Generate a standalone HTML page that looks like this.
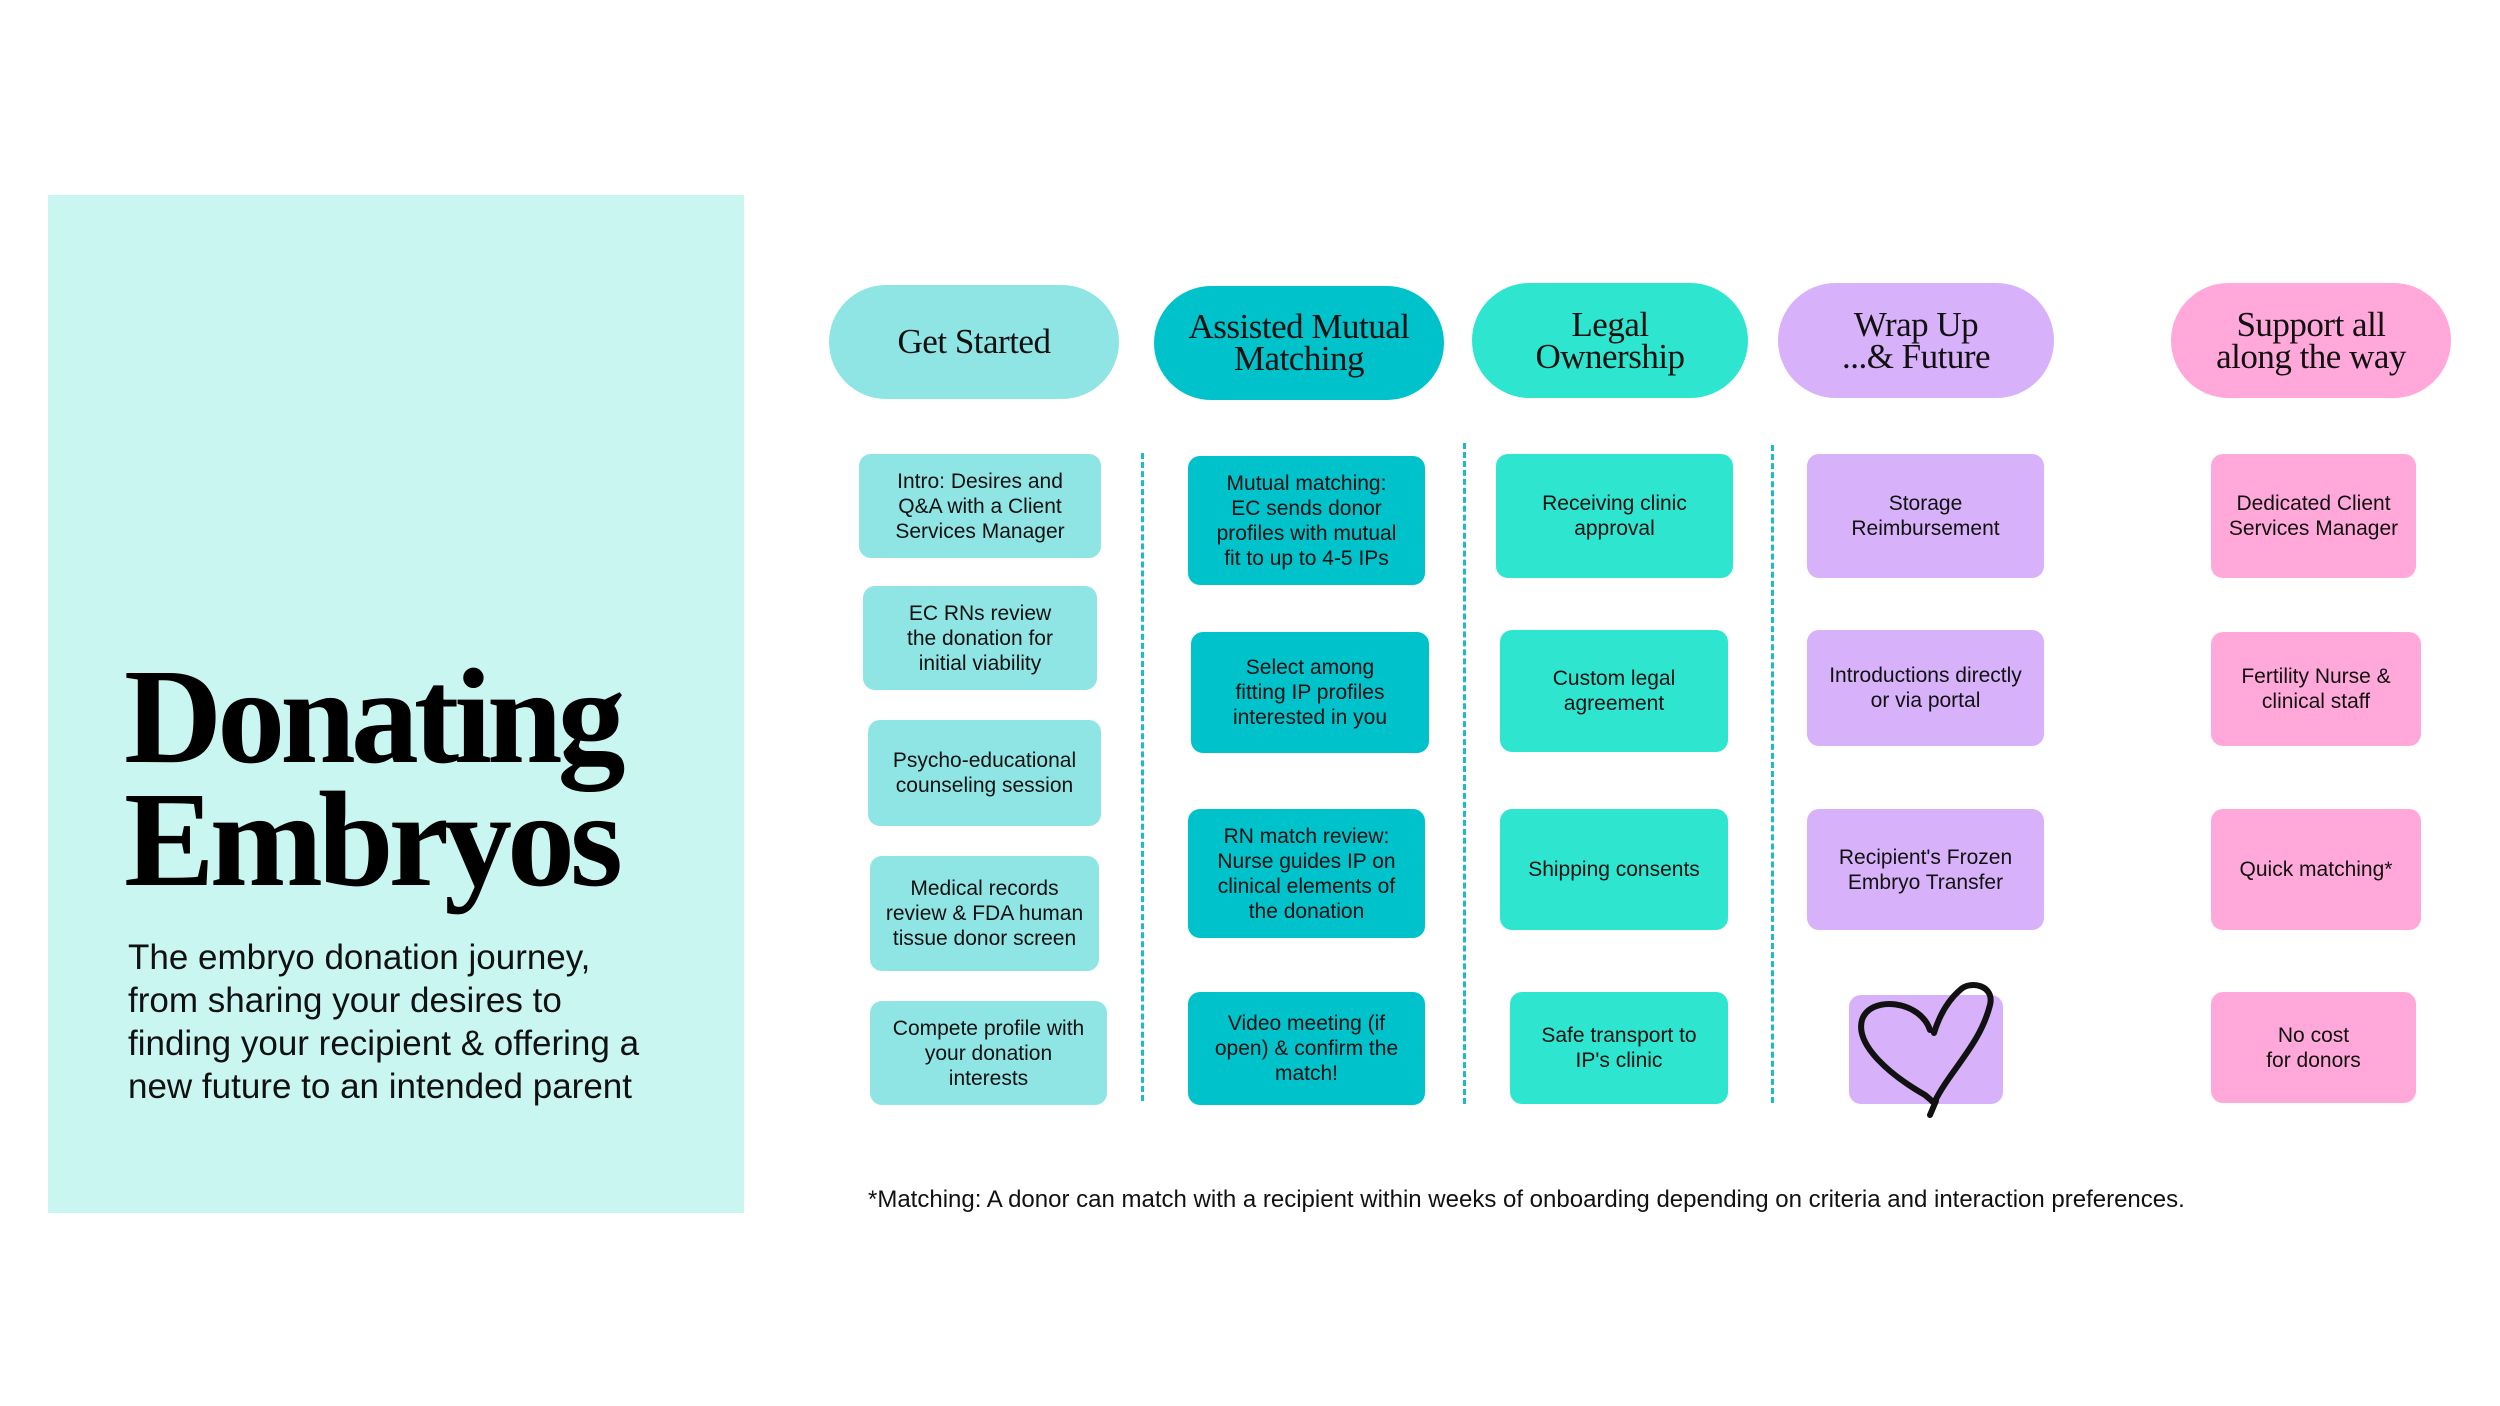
<!DOCTYPE html>
<html><head><meta charset="utf-8"><style>
*{margin:0;padding:0;box-sizing:border-box}
body{width:2500px;height:1406px;background:#fff;position:relative;overflow:hidden;font-family:"Liberation Sans",sans-serif;color:#111}
.a{position:absolute;display:flex;align-items:center;justify-content:center;text-align:center}
.h{border-radius:60px;font-family:"Liberation Serif",serif;font-size:35px;line-height:32px;letter-spacing:-0.5px;color:#111}
.b{border-radius:12px;font-size:21px;line-height:25px;padding:0 4px;white-space:nowrap}
.c1{background:#8fe4e4}.c2{background:#00c2cb}.c3{background:#2ee6cf}.c4{background:#d7b1f9}.c5{background:#ffa8d9}
.d{position:absolute;width:0;border-left:3px dashed #1fb8cc}
</style></head><body>
<div style="position:absolute;left:48px;top:195px;width:696px;height:1018px;background:#c9f6f1"></div>
<div style="position:absolute;left:124px;top:656px;font-family:'Liberation Serif',serif;font-weight:bold;font-size:136px;line-height:123px;letter-spacing:-5px;color:#000">Donating<br>Embryos</div>
<div style="position:absolute;left:128px;top:936px;font-size:35px;line-height:43px;color:#111;white-space:nowrap">The embryo donation journey,<br>from sharing your desires to<br>finding your recipient &amp; offering a<br>new future to an intended parent</div>

<div class="a h c1" style="left:829px;top:285px;width:290px;height:114px">Get Started</div>
<div class="a h c2" style="left:1154px;top:286px;width:290px;height:114px">Assisted Mutual<br>Matching</div>
<div class="a h c3" style="left:1472px;top:283px;width:276px;height:115px">Legal<br>Ownership</div>
<div class="a h c4" style="left:1778px;top:283px;width:276px;height:115px">Wrap Up<br>...&amp; Future</div>
<div class="a h c5" style="left:2171px;top:283px;width:280px;height:115px">Support all<br>along the way</div>

<div class="a b c1" style="left:859px;top:454px;width:242px;height:104px">Intro: Desires and<br>Q&amp;A with a Client<br>Services Manager</div>
<div class="a b c1" style="left:863px;top:586px;width:234px;height:104px">EC RNs review<br>the donation for<br>initial viability</div>
<div class="a b c1" style="left:868px;top:720px;width:233px;height:106px">Psycho-educational<br>counseling session</div>
<div class="a b c1" style="left:870px;top:856px;width:229px;height:115px">Medical records<br>review &amp; FDA human<br>tissue donor screen</div>
<div class="a b c1" style="left:870px;top:1001px;width:237px;height:104px">Compete profile with<br>your donation<br>interests</div>

<div class="d" style="left:1141px;top:453px;height:648px"></div>

<div class="a b c2" style="left:1188px;top:456px;width:237px;height:129px">Mutual matching:<br>EC sends donor<br>profiles with mutual<br>fit to up to 4-5 IPs</div>
<div class="a b c2" style="left:1191px;top:632px;width:238px;height:121px">Select among<br>fitting IP profiles<br>interested in you</div>
<div class="a b c2" style="left:1188px;top:809px;width:237px;height:129px">RN match review:<br>Nurse guides IP on<br>clinical elements of<br>the donation</div>
<div class="a b c2" style="left:1188px;top:992px;width:237px;height:113px">Video meeting (if<br>open) &amp; confirm the<br>match!</div>

<div class="d" style="left:1463px;top:443px;height:661px"></div>

<div class="a b c3" style="left:1496px;top:454px;width:237px;height:124px">Receiving clinic<br>approval</div>
<div class="a b c3" style="left:1500px;top:630px;width:228px;height:122px">Custom legal<br>agreement</div>
<div class="a b c3" style="left:1500px;top:809px;width:228px;height:121px">Shipping consents</div>
<div class="a b c3" style="left:1510px;top:992px;width:218px;height:112px">Safe transport to<br>IP's clinic</div>

<div class="d" style="left:1771px;top:445px;height:658px"></div>

<div class="a b c4" style="left:1807px;top:454px;width:237px;height:124px">Storage<br>Reimbursement</div>
<div class="a b c4" style="left:1807px;top:630px;width:237px;height:116px">Introductions directly<br>or via portal</div>
<div class="a b c4" style="left:1807px;top:809px;width:237px;height:121px">Recipient's Frozen<br>Embryo Transfer</div>
<div class="b c4" style="position:absolute;left:1849px;top:995px;width:154px;height:109px"></div>
<svg style="position:absolute;left:1850px;top:975px" width="160" height="150" viewBox="0 0 160 150">
<path d="M80 55 C70 25 20 20 12 45 C5 70 40 100 75 120 C80 124 82 126 84 128 C100 95 130 70 140 30 C145 10 120 5 110 15 C95 28 88 45 84 58 M86 126 L80 140" fill="none" stroke="#111" stroke-width="6" stroke-linecap="round" stroke-linejoin="round"/>
</svg>

<div class="a b c5" style="left:2211px;top:454px;width:205px;height:124px">Dedicated Client<br>Services Manager</div>
<div class="a b c5" style="left:2211px;top:632px;width:210px;height:114px">Fertility Nurse &amp;<br>clinical staff</div>
<div class="a b c5" style="left:2211px;top:809px;width:210px;height:121px">Quick matching*</div>
<div class="a b c5" style="left:2211px;top:992px;width:205px;height:111px">No cost<br>for donors</div>

<div style="position:absolute;left:868px;top:1186px;font-size:24px;line-height:28px;white-space:nowrap">*Matching: A donor can match with a recipient within weeks of onboarding depending on criteria and interaction preferences.</div>
</body></html>
